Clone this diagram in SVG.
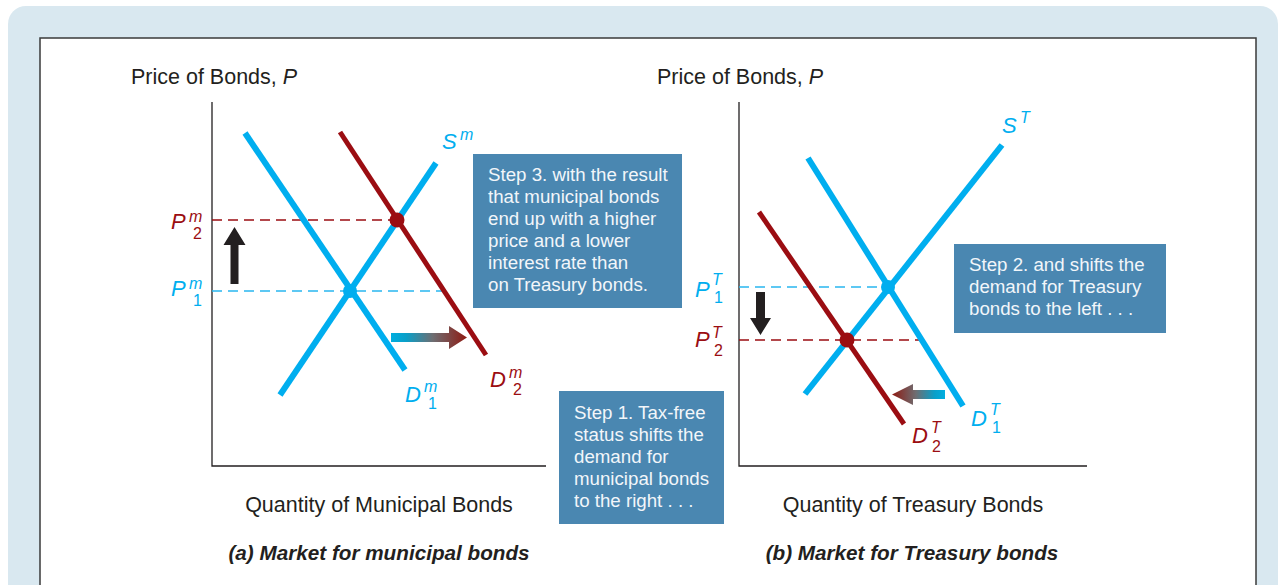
<svg xmlns="http://www.w3.org/2000/svg" width="1286" height="585" viewBox="0 0 1286 585">
<defs>
<style>
.t{font-family:"Liberation Sans",Arial,sans-serif;fill:#231f20}
.lab{font-size:21.5px}
.big{font-size:22px}
.it{font-style:italic}
.sm{font-size:16px}
.cy{fill:#00aeef}
.rd{fill:#9b0d12}
.step{font-family:"Liberation Sans",Arial,sans-serif;font-size:18.7px;fill:#f2f6fa}
.box{fill:#4a87b1}
.cyl{stroke:#00aeef;stroke-width:6;fill:none}
.rdl{stroke:#9b0d12;stroke-width:5;fill:none}
.ax{stroke:#231f20;stroke-width:1.3;fill:none}
.dc{stroke:#29b6f0;stroke-width:1.3;stroke-dasharray:10 6;fill:none}
.dr{stroke:#9b0d12;stroke-width:1.3;stroke-dasharray:10 6;fill:none}
.title{font-family:"Liberation Sans",Arial,sans-serif;font-size:20.7px;font-weight:bold;font-style:italic;fill:#231f20}
</style>
<linearGradient id="gR" x1="391" y1="0" x2="467" y2="0" gradientUnits="userSpaceOnUse">
<stop offset="0" stop-color="#00aee0"/><stop offset="0.2" stop-color="#0a9fc8"/><stop offset="0.55" stop-color="#6e6e72"/><stop offset="1" stop-color="#8e1a12"/>
</linearGradient>
<linearGradient id="gL" x1="945" y1="0" x2="892" y2="0" gradientUnits="userSpaceOnUse">
<stop offset="0" stop-color="#00aee0"/><stop offset="0.2" stop-color="#0a9fc8"/><stop offset="0.55" stop-color="#6e6e72"/><stop offset="1" stop-color="#8e1a12"/>
</linearGradient>
</defs>
<rect x="0" y="0" width="1286" height="585" fill="#ffffff"/>
<rect x="8" y="6" width="1270" height="620" rx="18" fill="#d9e8f0"/>
<rect x="40" y="38" width="1216" height="580" fill="#ffffff" stroke="#3a3a3a" stroke-width="1.5"/>

<g id="axes">
<polyline class="ax" points="212,102 212,466 546,466"/>
<polyline class="ax" points="739,102 739,466 1087,466"/>
<text class="t lab" x="131" y="84">Price of Bonds, <tspan class="it">P</tspan></text>
<text class="t lab" x="657" y="84">Price of Bonds, <tspan class="it">P</tspan></text>
<text class="t lab" x="379" y="512" text-anchor="middle">Quantity of Municipal Bonds</text>
<text class="t lab" x="913" y="512" text-anchor="middle">Quantity of Treasury Bonds</text>
</g>

<g id="connectors">
<line class="dr" x1="212" y1="220" x2="397" y2="220"/>
<line class="dc" x1="212" y1="291" x2="444" y2="291"/>
<line class="dc" x1="739" y1="287" x2="888" y2="287"/>
<line class="dr" x1="739" y1="340" x2="922" y2="340"/>
<line class="cyl" x1="245" y1="133" x2="405" y2="370"/>
<line class="cyl" x1="280" y1="395" x2="436" y2="163"/>
<line class="rdl" x1="340" y1="132" x2="486" y2="355"/>
<line class="cyl" x1="805" y1="394" x2="1002" y2="145"/>
<line class="cyl" x1="808" y1="158" x2="963" y2="406"/>
<line class="rdl" x1="759" y1="212" x2="904" y2="424"/>
<polygon fill="#231f20" points="230.5,284 238.5,284 238.5,245 245.5,245 234.5,227 223.5,245 230.5,245"/>
<polygon fill="#231f20" points="756,292 765,292 765,318 771,318 760.5,335 750,318 756,318"/>
<polygon fill="url(#gR)" points="391,333 449,333 449,326 467,337.5 449,349 449,342 391,342"/>
<polygon fill="url(#gL)" points="945,390 913,390 913,384 892,394.5 913,405 913,399 945,399"/>
</g>

<g id="eq-m1"><circle cx="350" cy="291" r="7" fill="#00aeef"/></g>
<g id="eq-m2"><circle cx="397" cy="220" r="7.5" fill="#9b0d12"/></g>
<g id="eq-t1"><circle cx="888" cy="287" r="7" fill="#00aeef"/></g>
<g id="eq-t2"><circle cx="847" cy="340" r="7.5" fill="#9b0d12"/></g>

<g id="labels-m">
<text class="t big it rd" x="171" y="229">P</text>
<text class="t sm it rd" x="189" y="222">m</text>
<text class="t sm rd" x="193" y="239">2</text>
<text class="t big it cy" x="171" y="296">P</text>
<text class="t sm it cy" x="189" y="289">m</text>
<text class="t sm cy" x="193" y="306">1</text>
<text class="t big it cy" x="442" y="149">S</text>
<text class="t sm it cy" x="460" y="140">m</text>
<text class="t big it cy" x="405" y="402">D</text>
<text class="t sm it cy" x="424" y="392">m</text>
<text class="t sm cy" x="428" y="409">1</text>
<text class="t big it rd" x="490" y="387">D</text>
<text class="t sm it rd" x="509" y="378">m</text>
<text class="t sm rd" x="513" y="395">2</text>
</g>

<g id="labels-t">
<text class="t big it cy" x="695" y="297">P</text>
<text class="t sm it cy" x="712" y="285">T</text>
<text class="t sm cy" x="714" y="303">1</text>
<text class="t big it rd" x="695" y="347">P</text>
<text class="t sm it rd" x="712" y="338">T</text>
<text class="t sm rd" x="714" y="356">2</text>
<text class="t big it cy" x="1002" y="133">S</text>
<text class="t sm it cy" x="1020" y="123">T</text>
<text class="t big it cy" x="971" y="426">D</text>
<text class="t sm it cy" x="990" y="415">T</text>
<text class="t sm cy" x="992" y="433">1</text>
<text class="t big it rd" x="912" y="443">D</text>
<text class="t sm it rd" x="931" y="433">T</text>
<text class="t sm rd" x="932" y="452">2</text>
</g>

<g id="step3">
<rect class="box" x="473" y="154" width="209" height="154"/>
<text class="step" x="488" y="181">Step 3. with the result</text>
<text class="step" x="488" y="203">that municipal bonds</text>
<text class="step" x="488" y="225">end up with a higher</text>
<text class="step" x="488" y="247">price and a lower</text>
<text class="step" x="488" y="269">interest rate than</text>
<text class="step" x="488" y="291">on Treasury bonds.</text>
</g>

<g id="step1">
<rect class="box" x="559" y="391" width="165" height="133"/>
<text class="step" x="574" y="419">Step 1. Tax-free</text>
<text class="step" x="574" y="441">status shifts the</text>
<text class="step" x="574" y="463">demand for</text>
<text class="step" x="574" y="485">municipal bonds</text>
<text class="step" x="574" y="507">to the right . . .</text>
</g>

<g id="step2">
<rect class="box" x="954" y="244" width="212" height="89"/>
<text class="step" x="969" y="271">Step 2. and shifts the</text>
<text class="step" x="969" y="293">demand for Treasury</text>
<text class="step" x="969" y="315">bonds to the left . . .</text>
</g>

<g id="titles">
<text class="title" x="379" y="560" text-anchor="middle">(a) Market for municipal bonds</text>
<text class="title" x="912" y="560" text-anchor="middle">(b) Market for Treasury bonds</text>
</g>
</svg>
